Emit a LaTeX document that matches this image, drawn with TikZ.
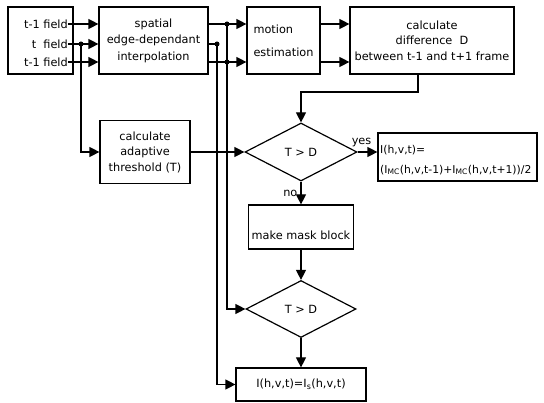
\documentclass[tikz,border=0pt]{standalone}
\usepackage{fontspec}
\setmainfont{DejaVu Sans}
\usetikzlibrary{arrows.meta,shapes.geometric}
\begin{document}
\begin{tikzpicture}[x=1pt,y=-1pt,
  box/.style={draw,line width=1.2pt,inner sep=0pt,align=center,font=\fontsize{11.3}{16.5}\selectfont},
  dec/.style={draw,diamond,line width=1.2pt,inner sep=0pt,font=\fontsize{11.3}{13}\selectfont},
  lbl/.style={inner sep=0pt,font=\fontsize{11.3}{13}\selectfont},
  arr/.style={line width=1.2pt,-{Triangle[length=10pt,width=10pt]}},
  ln/.style={line width=1.2pt},
  dot/.style={circle,fill,inner sep=0pt,minimum size=5pt}]
\useasboundingbox (0,0) rectangle (544,403);
% boxes
\node[box,minimum width=65pt,minimum height=67pt] (fb) at (40.5,40.5) {};
\node[lbl,anchor=east] (f1) at (68,24) {t-1 field};
\node[lbl,anchor=east] (f2) at (68,44) {t\ \ field};
\node[lbl,anchor=east] (f3) at (68,62) {t-1 field};
\node[box,minimum width=109pt,minimum height=67pt] (sp) at (153.5,40.5) {spatial\\edge-dependant\\interpolation};
\node[box,minimum width=73pt,minimum height=67pt,font=\fontsize{11.3}{23}\selectfont,align=left] (mo) at (283.5,40.5) {motion\\estimation};
\node[box,minimum width=164pt,minimum height=67pt,font=\fontsize{11.3}{15.5}\selectfont] (df) at (432,40.5) {calculate\\difference\ \ D\\between t-1 and t+1 frame};
\node[box,minimum width=90pt,minimum height=63pt,font=\fontsize{11.3}{15.5}\selectfont] (ad) at (145,152) {calculate\\adaptive\\threshold (T)};
\node[dec,minimum width=112pt,minimum height=58pt] (d1) at (301,152) {T > D};
\node[box,minimum width=159pt,minimum height=48pt] (res) at (457.5,157) {};
\node[lbl,anchor=west,font=\fontsize{10.8}{13}\selectfont] (r1) at (380,150) {I(h,v,t)=};
\node[lbl,anchor=west,font=\fontsize{10.8}{13}\selectfont] (r2) at (380,170) {(I\textsubscript{MC}(h,v,t-1)+I\textsubscript{MC}(h,v,t+1))/2};
\node[box,minimum width=105pt,minimum height=44pt] (mk) at (301,227) {};
\node[lbl] (mkt) at (301,235) {make mask block};
\node[dec,minimum width=110pt,minimum height=57pt] (d2) at (301,309) {T > D};
\node[box,minimum width=130pt,minimum height=33pt] (fin) at (301,384.5) {I(h,v,t)=I\textsubscript{s}(h,v,t)};
% junction dots
\node[dot] (j0) at (81,44) {};
\node[dot] (j1) at (227,24) {};
\node[dot] (j2) at (227,62) {};
\node[dot] (j3) at (217,44) {};
\coordinate (c1) at (418,92);
% connectors
\draw[arr] (f1.east) -- (f1.east -| sp.west);
\draw[arr] (f2.east) -- (f2.east -| sp.west);
\draw[arr] (f3.east) -- (f3.east -| sp.west);
\draw[arr] (j0.center) |- (ad.west);
\draw[arr] (j1 -| sp.east) -- (j1 -| mo.west);
\draw[arr] (j2 -| sp.east) -- (j2 -| mo.west);
\draw[ln] (j3 -| sp.east) -- (j3.center);
\draw[arr] (j3.center) |- (fin.west);
\draw[arr] (j1.center) |- (d2.west);
\draw[arr] (j1 -| mo.east) -- (j1 -| df.west);
\draw[arr] (j2 -| mo.east) -- (j2 -| df.west);
\draw[arr] (c1 |- df.south) -- (c1) -| (d1.north);
\draw[arr] (ad.east) -- (d1.west);
\draw[arr] (d1.east) -- (d1.east -| res.west) node[lbl,pos=0.2,above=5pt] {yes};
\draw[arr] (d1.south) -- (mk.north) node[lbl,midway,left=3pt] {no};
\draw[arr] (mk.south) -- (d2.north);
\draw[arr] (d2.south) -- (fin.north);
\end{tikzpicture}
\end{document}
